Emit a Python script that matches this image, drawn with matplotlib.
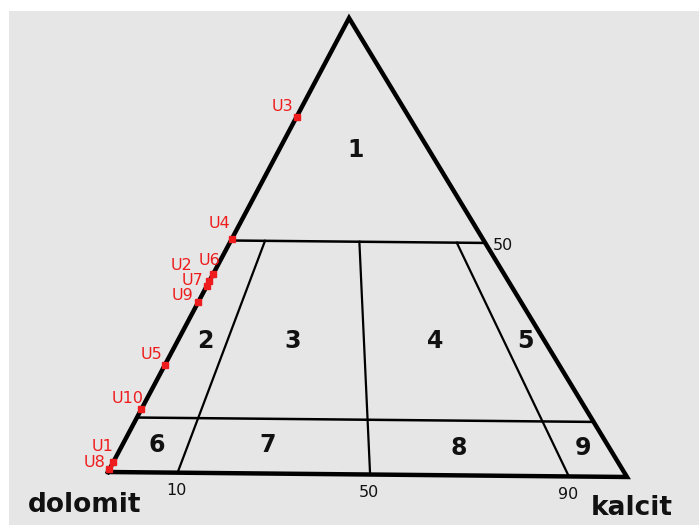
import numpy as np
import matplotlib.pyplot as plt

# ternary diagram: dolomit (left), kalcit (right), third component at the top
# t = share of top component, r = kalcit / (kalcit + dolomit)
level_t = [0.12, 0.51]                 # horizontal class boundaries
ratio_r = [0.134, 0.505, 0.888]        # kalcit ratio boundaries (below level 0.51)
ratio_ticks = ['10', '50', '90']
level_tick = '50'

region_names = ['1', '2', '3', '4', '5', '6', '7', '8', '9']
region_t = [0.71, 0.29, 0.29, 0.294, 0.296, 0.06, 0.063, 0.06, 0.063]
region_r = [0.51, 0.075, 0.311, 0.70, 0.947, 0.071, 0.298, 0.69, 0.946]

samples = ['U1', 'U2', 'U3', 'U4', 'U5', 'U6', 'U7', 'U8', 'U9', 'U10']
sample_t = [0.022, 0.421, 0.783, 0.513, 0.235, 0.436, 0.410, 0.006, 0.375, 0.138]
sample_r = [0, 0, 0, 0, 0, 0, 0, 0, 0, 0]
# label offsets in pixels (x, y up)
sample_off = [(-11, 16), (-28, 15), (-14, 10), (-12, 16), (-13, 11),
              (-4, 14), (-14, 5), (-15, 7), (-16, 6), (-14, 11)]

APEX_X, H = 0.456, 0.879
ANG = -0.0096   # the scanned drawing is a bit rotated


def tern(t, r):
    t = np.asarray(t, float)
    r = np.asarray(r, float)
    lx = APEX_X * t
    rx = 1 - (1 - APEX_X) * t
    x = lx + r * (rx - lx)
    y = H * t
    c, s = np.cos(ANG), np.sin(ANG)
    return x * c - y * s, x * s + y * c


fig = plt.figure(figsize=(6.99, 5.25), dpi=100)
ax = fig.add_axes([9 / 699, 0, 690 / 699, 514 / 525])
ax.set_facecolor('#e6e6e6')
ax.set_xlim(-0.1908, 1.1387)
ax.set_ylim(-0.1021, 0.8882)
ax.set_xticks([])
ax.set_yticks([])
for s in ax.spines.values():
    s.set_visible(False)

# outer triangle
ox, oy = tern([0, 0, 1, 0], [0, 1, 0, 0])
ax.plot(ox, oy, color='black', lw=3.2, solid_joinstyle='miter')

# horizontal boundaries
for t in level_t:
    hx, hy = tern([t, t], [0, 1])
    ax.plot(hx, hy, color='black', lw=1.8)

# ratio lines from the base up to the upper level
for r in ratio_r:
    lx, ly = tern([0, level_t[1]], [r, r])
    ax.plot(lx, ly, color='black', lw=1.6)

# region numbers
rx, ry = tern(region_t, region_r)
for name, x, y in zip(region_names, rx, ry):
    ax.text(x, y, name, ha='center', va='center', fontsize=17,
            fontweight='bold', color='#111111')

# tick labels
for r, lab in zip(ratio_r, ratio_ticks):
    x, y = tern(0, r)
    ax.annotate(lab, (x, y), xytext=(-1, -18), textcoords='offset pixels',
                ha='center', va='center', fontsize=11.5, color='#111111')
x, y = tern(level_t[1], 1)
ax.annotate(level_tick, (x, y), xytext=(18, -3), textcoords='offset pixels',
            ha='center', va='center', fontsize=11.5, color='#111111')

# corner names
x, y = tern(0, 0)
ax.annotate('dolomit', (x, y), xytext=(-80, -40), textcoords='offset pixels',
            ha='left', va='baseline', fontsize=19, fontweight='bold', color='#111111')
x, y = tern(0, 1)
ax.annotate('kalcit', (x, y), xytext=(-36, -38), textcoords='offset pixels',
            ha='left', va='baseline', fontsize=19, fontweight='bold', color='#111111')

# samples
sx, sy = tern(sample_t, sample_r)
ax.plot(sx, sy, 's', color='#ee1c1c', ms=4, zorder=5)
for name, x, y, off in zip(samples, sx, sy, sample_off):
    ax.annotate(name, (x, y), xytext=off, textcoords='offset pixels',
                ha='center', va='center', fontsize=11.5, color='#ee1c1c')

fig.savefig('out.png', dpi=100)
